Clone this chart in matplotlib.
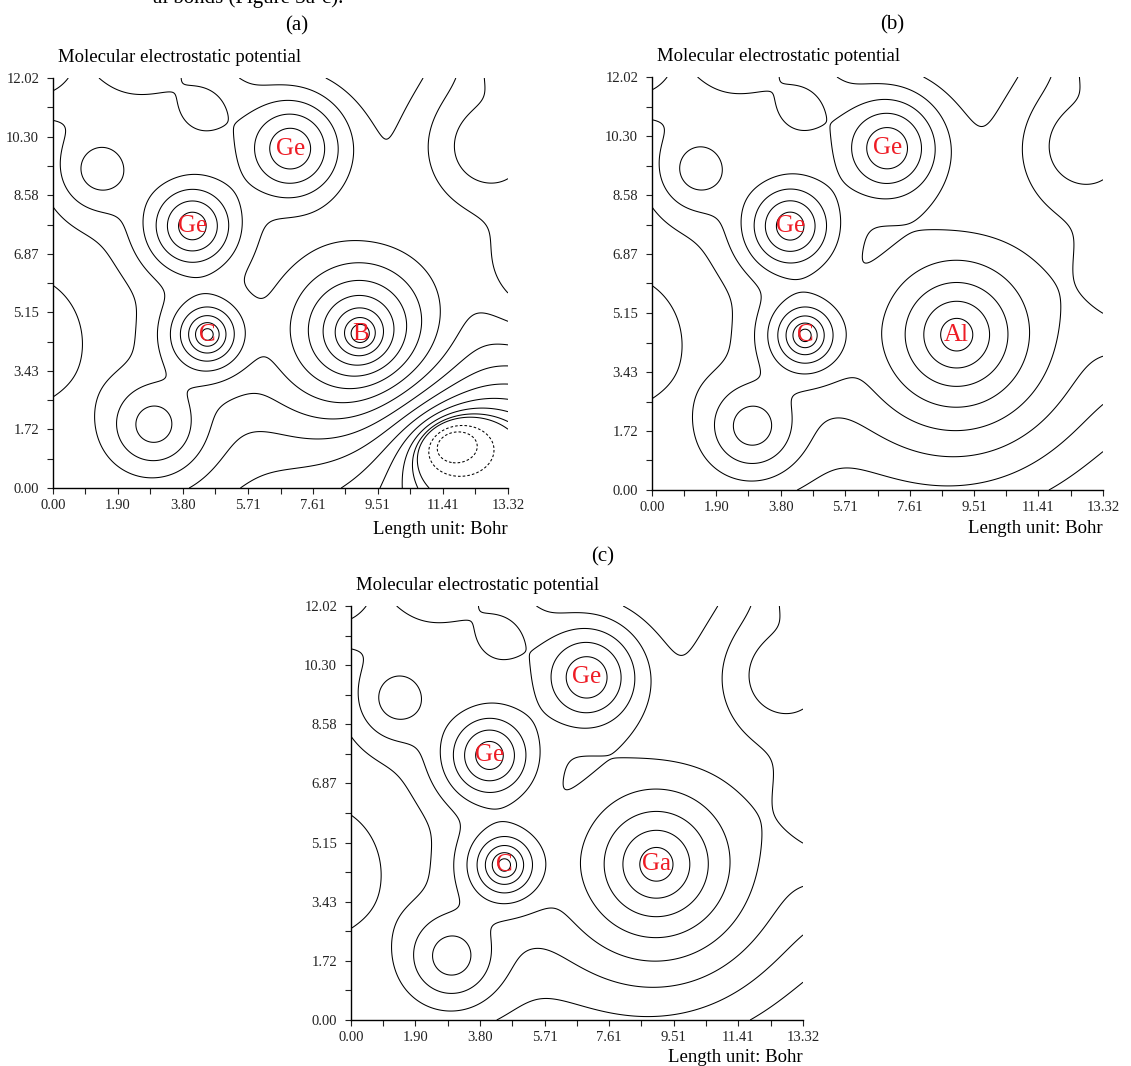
import numpy as np
import matplotlib
matplotlib.use('Agg')
import matplotlib.pyplot as plt

W, H = 1131, 1066
plt.rcParams['font.family'] = ['Liberation Serif', 'DejaVu Serif']

# ---------------- data ----------------
PANEL_TAGS = ['(a)', '(b)', '(c)']
METALS = ['B', 'Al', 'Ga']
X_TICKS = [0.00, 1.90, 3.80, 5.71, 7.61, 9.51, 11.41, 13.32]
Y_TICKS = [0.00, 1.72, 3.43, 5.15, 6.87, 8.58, 10.30, 12.02]
TITLE = 'Molecular electrostatic potential'
UNIT = 'Length unit: Bohr'

# labelled atoms in the plane (Bohr): Ge, Ge, C, metal
ATOM_NAMES = ['Ge', 'Ge', 'C']
ATOM_X = [6.95, 4.08, 4.52, 9.00]
ATOM_Y = [9.95, 7.68, 4.50, 4.52]
ATOM_Z = [0.80, 0.50, 0.18]
ATOM_Q = [10.0, 7.3, 3.15]
ATOM_LAM = [0.60, 0.60, 0.56]
# metal site per panel: height above plane, charge, screening length
METAL_Z = [0.05, 0.55, 0.55]
METAL_Q = [8.0, 4.8, 4.9]
METAL_LAM = [1.0, 1.4, 1.4]

# atoms lying off the plotted plane / outside the window
HID_X = [1.40, 2.96, 12.75, 2.45, 13.90, -0.50, -1.60, 14.60, 4.40, -1.30]
HID_Y = [9.33, 1.85, 9.99, 12.90, 12.60, 12.40, -1.60, 6.50, 11.10, 4.30]
HID_Z = [1.00, 1.00, 1.30, 0.60, 0.60, 0.80, 1.00, 1.00, 1.10, 1.00]
HID_Q = [3.1, 3.3, 3.5, 2.2, 2.2, 1.5, 0.8, 2.0, 2.4, 1.6]
HID_LAM = [0.6, 0.6, 1.0, 1.0, 1.0, 1.0, 1.2, 1.2, 0.7, 1.0]
TAIL_P = 0.05
TAIL_MU = 2.2

# electron-rich pocket (panel a only): centre, widths, potential minimum
POCKET = dict(x=12.1, y=0.95, sx=3.4, sy=2.7, vmin=-0.0022)

LEVEL_EXP = list(range(-10, 5))

# ---------------- layout (pixels) ----------------
BOXES = [(53, 78, 508, 488), (652, 77, 1103, 490), (351, 606, 803, 1020)]
TAG_POS = [(297, 26), (892, 25), (603, 557)]
TITLE_GAP = [16, 16, 16]
UNIT_GAP = [46, 43, 42]

fig = plt.figure(figsize=(W / 100, H / 100), dpi=100)


def fx(px):
    return px / W


def fy(py):
    return 1 - py / H


def positive_part(X, Y, k):
    V = np.zeros_like(X, dtype=float)
    zs = ATOM_Z + [METAL_Z[k]]
    qs = ATOM_Q + [METAL_Q[k]]
    ls = ATOM_LAM + [METAL_LAM[k]]
    for x0, y0, z0, q, lam in zip(ATOM_X, ATOM_Y, zs, qs, ls):
        d = np.sqrt((X - x0) ** 2 + (Y - y0) ** 2 + z0 ** 2)
        V += q * np.exp(-d / lam) / d + TAIL_P * np.exp(-d / TAIL_MU)
    for x0, y0, z0, q, lam in zip(HID_X, HID_Y, HID_Z, HID_Q, HID_LAM):
        d = np.sqrt((X - x0) ** 2 + (Y - y0) ** 2 + z0 ** 2)
        V += q * np.exp(-d / lam) / d + TAIL_P * np.exp(-d / TAIL_MU)
    return V


def potential(X, Y, k):
    V = positive_part(X, Y, k)
    if k == 0:
        p = POCKET
        v0 = positive_part(np.array([p['x']]), np.array([p['y']]), k)[0]
        g = np.exp(-((X - p['x']) ** 2 / (2 * p['sx'] ** 2)
                     + (Y - p['y']) ** 2 / (2 * p['sy'] ** 2)))
        V = V * (1.0 - (1.0 - p['vmin'] / v0) * g)
    return V


gx = np.linspace(0, 13.32, 533)
gy = np.linspace(0, 12.02, 481)
GX, GY = np.meshgrid(gx, gy)
pos_levels = [2.0 ** e for e in LEVEL_EXP]
neg_levels = sorted([-2.0 ** e for e in LEVEL_EXP])

mid_x = [(a + b) / 2 for a, b in zip(X_TICKS[:-1], X_TICKS[1:])]
mid_y = [(a + b) / 2 for a, b in zip(Y_TICKS[:-1], Y_TICKS[1:])]

for k, (l, t, r, b) in enumerate(BOXES):
    ax = fig.add_axes([fx(l), fy(b), (r - l) / W, (b - t) / H])
    V = potential(GX, GY, k)
    ax.contour(GX, GY, V, levels=pos_levels, colors='black',
               linewidths=0.75, linestyles='solid')
    if V.min() < -2.0 ** LEVEL_EXP[0]:
        ax.contour(GX, GY, V, levels=neg_levels, colors='black',
                   linewidths=0.75, linestyles=[(0, (2.5, 2.0))])
    ax.set_xlim(0, 13.32)
    ax.set_ylim(0, 12.02)
    ax.set_xticks(X_TICKS)
    ax.set_yticks(Y_TICKS)
    ax.set_xticklabels(['%.2f' % v for v in X_TICKS])
    ax.set_yticklabels(['%.2f' % v for v in Y_TICKS])
    ax.set_xticks(mid_x, minor=True)
    ax.set_yticks(mid_y, minor=True)
    ax.tick_params(which='both', direction='out', length=4, width=0.8,
                   labelsize=10.5, colors='#222222')
    ax.tick_params(axis='x', pad=4)
    ax.tick_params(axis='y', pad=6)
    for s in ['top', 'right']:
        ax.spines[s].set_visible(False)
    for s in ['left', 'bottom']:
        ax.spines[s].set_linewidth(1.0)
    names = ATOM_NAMES + [METALS[k]]
    for nm, x0, y0 in zip(names, ATOM_X, ATOM_Y):
        ax.text(x0, y0, nm, color='#ee1c25', fontsize=18,
                ha='center', va='center')
    fig.text(fx(l + 5), fy(t - TITLE_GAP[k]), TITLE, fontsize=13.5,
             ha='left', va='baseline')
    fig.text(fx(r), fy(b + UNIT_GAP[k]), UNIT, fontsize=13.5,
             ha='right', va='baseline')
    tx, ty = TAG_POS[k]
    fig.text(fx(tx), fy(ty), PANEL_TAGS[k], fontsize=15,
             ha='center', va='center')

fig.text(fx(343), fy(3), 'al bonds (Figure 3a-c).', fontsize=15,
         ha='right', va='baseline')

fig.savefig('out.png', dpi=100)
